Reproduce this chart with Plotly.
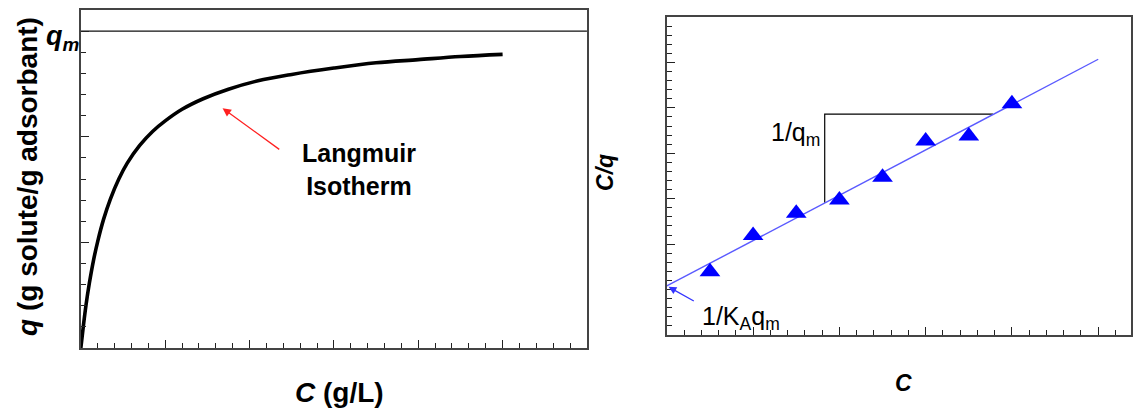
import plotly.graph_objects as go

W, H = 1133, 408

# ---- Left panel: Langmuir isotherm ----
c_iso = [0, 0.03, 0.06, 0.1, 0.15, 0.2, 0.27, 0.35, 0.45, 0.55, 0.7, 0.85, 1.0, 1.2, 1.45,
         1.75, 2.1, 2.5, 3.0, 3.5, 4.0, 4.5, 5.0]
q_iso = [0, 0.21, 0.40, 0.61, 0.83, 1.01, 1.22, 1.41, 1.60, 1.75, 1.92, 2.05, 2.15, 2.26, 2.36,
         2.45, 2.53, 2.59, 2.65, 2.70, 2.73, 2.76, 2.78]
q_m = 3.0
qm_line_x = [0, 6]

# ---- Right panel: linearized form ----
c_pts = [0.5, 1.0, 1.5, 2.0, 2.5, 3.0, 3.5, 4.0]
cq_pts = [1.39, 2.19, 2.68, 2.97, 3.47, 4.27, 4.38, 5.09]
fit_x = [0, 5]
fit_y = [1.08, 6.07]
slope_x = [1.83, 1.83, 3.78]
slope_y = [2.91, 4.86, 4.86]


def px(x):
    return x / W


def py(y):
    return 1 - y / H


fig = go.Figure()

fig.add_trace(go.Scatter(x=qm_line_x, y=[q_m, q_m], mode="lines",
                         line=dict(color="#111", width=1.2), xaxis="x", yaxis="y",
                         hoverinfo="skip"))
fig.add_trace(go.Scatter(x=c_iso, y=q_iso, mode="lines",
                         line=dict(color="black", width=3.6, shape="spline", smoothing=1.0),
                         xaxis="x", yaxis="y"))

fig.add_trace(go.Scatter(x=slope_x, y=slope_y, mode="lines",
                         line=dict(color="black", width=1.2), xaxis="x2", yaxis="y2",
                         hoverinfo="skip"))
fig.add_trace(go.Scatter(x=fit_x, y=fit_y, mode="lines",
                         line=dict(color="#5a5aff", width=1.4), xaxis="x2", yaxis="y2"))
fig.add_trace(go.Scatter(x=c_pts, y=cq_pts, mode="markers",
                         marker=dict(symbol="triangle-up", size=18, color="#0000ff"),
                         xaxis="x2", yaxis="y2"))

axis_common = dict(showgrid=False, zeroline=False, showticklabels=False,
                   showline=True, linecolor="#444", linewidth=1.5, mirror=True,
                   ticks="inside", ticklen=8, tickwidth=1.2, tickcolor="#222",
                   minor=dict(ticks="inside", ticklen=5, tickwidth=1.2, tickcolor="#222", dtick=0.2))

fig.update_layout(
    width=W, height=H,
    margin=dict(l=0, r=0, t=0, b=0),
    paper_bgcolor="white", plot_bgcolor="white",
    showlegend=False,
    font=dict(family="Liberation Sans, Arial, sans-serif", color="black"),
    xaxis=dict(domain=[px(81), px(588)], range=[0, 6], dtick=1, anchor="y", **axis_common),
    yaxis=dict(domain=[py(348), py(10)], range=[0, 3.2], dtick=1, anchor="x", **axis_common),
    xaxis2=dict(domain=[px(668), 1.0], range=[0, 5.38], dtick=1, anchor="y2", **axis_common),
    yaxis2=dict(domain=[py(335), py(17)], range=[0, 7], dtick=1, anchor="x2", **axis_common),
)

ann = []
# Left panel texts
ann.append(dict(xref="paper", yref="paper", x=px(27), y=py(176), text="<b><i>q</i> (g solute/g adsorbant)</b>",
                textangle=-90, showarrow=False, font=dict(size=28), xanchor="center", yanchor="middle"))
ann.append(dict(xref="paper", yref="paper", x=px(82), y=py(38), text="<b><i>q<sub>m</sub></i></b>",
                showarrow=False, font=dict(size=27), xanchor="right", yanchor="middle"))
ann.append(dict(xref="paper", yref="paper", x=px(340), y=py(392), text="<b><i>C</i> (g/L)</b>",
                showarrow=False, font=dict(size=28), xanchor="center", yanchor="middle"))
ann.append(dict(xref="paper", yref="paper", x=px(360), y=py(169), text="<b>Langmuir<br>Isotherm</b>",
                showarrow=False, font=dict(size=25), xanchor="center", yanchor="middle", align="center"))
ann.append(dict(xref="x", yref="y", x=1.68, y=2.27, ax=2.37, ay=1.87, axref="x", ayref="y",
                text="", showarrow=True, arrowhead=2, arrowsize=1.3, arrowwidth=1.3, arrowcolor="#ff2020"))
# Right panel texts
ann.append(dict(xref="paper", yref="paper", x=px(606), y=py(172), text="<b><i>C/q</i></b>",
                textangle=-90, showarrow=False, font=dict(size=23), xanchor="center", yanchor="middle"))
ann.append(dict(xref="paper", yref="paper", x=px(905), y=py(383), text="<b><i>C</i></b>",
                showarrow=False, font=dict(size=23), xanchor="center", yanchor="middle"))
ann.append(dict(xref="paper", yref="paper", x=px(823), y=py(134), text="1/q<sub>m</sub>",
                showarrow=False, font=dict(size=25), xanchor="right", yanchor="middle"))
ann.append(dict(xref="paper", yref="paper", x=px(701), y=py(318), text="1/K<sub>A</sub>q<sub>m</sub>",
                showarrow=False, font=dict(size=25), xanchor="left", yanchor="middle"))
ann.append(dict(xref="x2", yref="y2", x=0.02, y=1.06, ax=0.33, ay=0.73, axref="x2", ayref="y2",
                text="", showarrow=True, arrowhead=2, arrowsize=1.2, arrowwidth=1.3, arrowcolor="#3333ff"))

fig.update_layout(annotations=ann)

fig.write_html("out.html")
